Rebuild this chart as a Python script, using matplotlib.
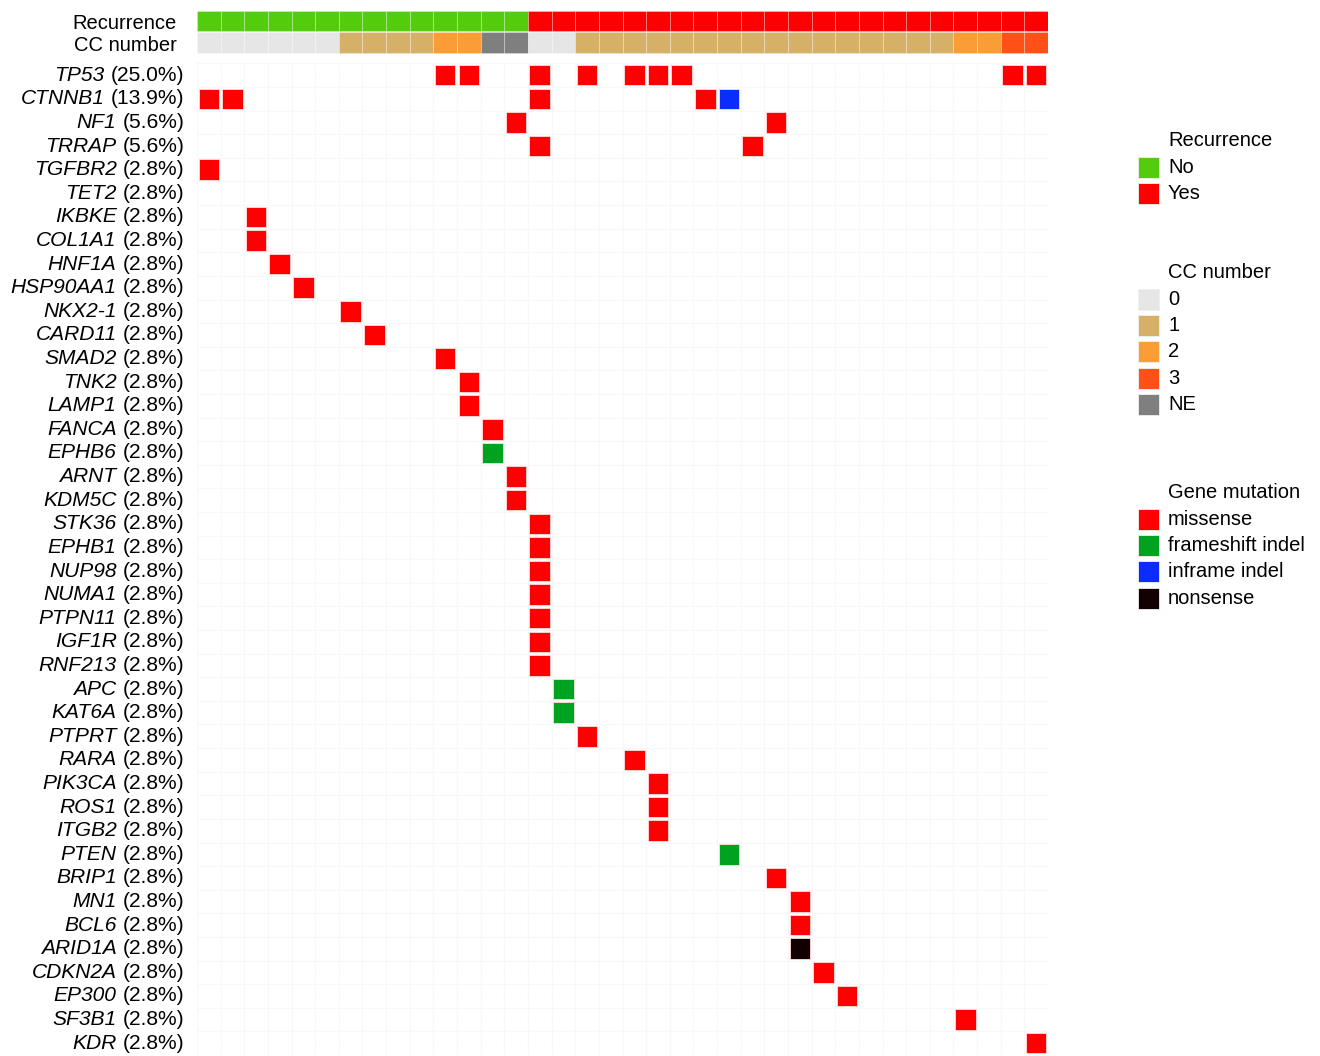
import matplotlib.pyplot as plt
from matplotlib.patches import Rectangle
from matplotlib.transforms import offset_copy

plt.rcParams['font.family'] = ['Liberation Sans', 'DejaVu Sans']

# genes shown top to bottom with their mutation frequency (%)
genes = ['TP53', 'CTNNB1', 'NF1', 'TRRAP', 'TGFBR2', 'TET2', 'IKBKE', 'COL1A1',
         'HNF1A', 'HSP90AA1', 'NKX2-1', 'CARD11', 'SMAD2', 'TNK2', 'LAMP1',
         'FANCA', 'EPHB6', 'ARNT', 'KDM5C', 'STK36', 'EPHB1', 'NUP98', 'NUMA1',
         'PTPN11', 'IGF1R', 'RNF213', 'APC', 'KAT6A', 'PTPRT', 'RARA', 'PIK3CA',
         'ROS1', 'ITGB2', 'PTEN', 'BRIP1', 'MN1', 'BCL6', 'ARID1A', 'CDKN2A',
         'EP300', 'SF3B1', 'KDR']
gene_pct = [25.0, 13.9, 5.6, 5.6, 2.8, 2.8, 2.8, 2.8, 2.8, 2.8, 2.8, 2.8, 2.8, 2.8,
            2.8, 2.8, 2.8, 2.8, 2.8, 2.8, 2.8, 2.8, 2.8, 2.8, 2.8, 2.8, 2.8, 2.8,
            2.8, 2.8, 2.8, 2.8, 2.8, 2.8, 2.8, 2.8, 2.8, 2.8, 2.8, 2.8, 2.8, 2.8]

# per-sample annotations (36 samples)
recurrence = ['No', 'No', 'No', 'No', 'No', 'No', 'No', 'No', 'No', 'No', 'No', 'No',
              'No', 'No', 'Yes', 'Yes', 'Yes', 'Yes', 'Yes', 'Yes', 'Yes', 'Yes',
              'Yes', 'Yes', 'Yes', 'Yes', 'Yes', 'Yes', 'Yes', 'Yes', 'Yes', 'Yes',
              'Yes', 'Yes', 'Yes', 'Yes']
cc_number = ['0', '0', '0', '0', '0', '0', '1', '1', '1', '1', '2', '2', 'NE', 'NE',
             '0', '0', '1', '1', '1', '1', '1', '1', '1', '1', '1', '1', '1', '1',
             '1', '1', '1', '1', '2', '2', '3', '3']

# one entry per mutation: gene, sample index, mutation type
mutations = [
    ('TP53', 10, 'missense'), ('TP53', 11, 'missense'), ('TP53', 14, 'missense'),
    ('TP53', 16, 'missense'), ('TP53', 18, 'missense'), ('TP53', 19, 'missense'),
    ('TP53', 20, 'missense'), ('TP53', 34, 'missense'), ('TP53', 35, 'missense'),
    ('CTNNB1', 0, 'missense'), ('CTNNB1', 1, 'missense'), ('CTNNB1', 14, 'missense'),
    ('CTNNB1', 21, 'missense'), ('CTNNB1', 22, 'inframe indel'),
    ('NF1', 13, 'missense'), ('NF1', 24, 'missense'),
    ('TRRAP', 14, 'missense'), ('TRRAP', 23, 'missense'),
    ('TGFBR2', 0, 'missense'), ('IKBKE', 2, 'missense'), ('COL1A1', 2, 'missense'),
    ('HNF1A', 3, 'missense'), ('HSP90AA1', 4, 'missense'), ('NKX2-1', 6, 'missense'),
    ('CARD11', 7, 'missense'), ('SMAD2', 10, 'missense'), ('TNK2', 11, 'missense'),
    ('LAMP1', 11, 'missense'), ('FANCA', 12, 'missense'),
    ('EPHB6', 12, 'frameshift indel'), ('ARNT', 13, 'missense'),
    ('KDM5C', 13, 'missense'), ('STK36', 14, 'missense'), ('EPHB1', 14, 'missense'),
    ('NUP98', 14, 'missense'), ('NUMA1', 14, 'missense'), ('PTPN11', 14, 'missense'),
    ('IGF1R', 14, 'missense'), ('RNF213', 14, 'missense'),
    ('APC', 15, 'frameshift indel'), ('KAT6A', 15, 'frameshift indel'),
    ('PTPRT', 16, 'missense'), ('RARA', 18, 'missense'), ('PIK3CA', 19, 'missense'),
    ('ROS1', 19, 'missense'), ('ITGB2', 19, 'missense'),
    ('PTEN', 22, 'frameshift indel'), ('BRIP1', 24, 'missense'),
    ('MN1', 25, 'missense'), ('BCL6', 25, 'missense'), ('ARID1A', 25, 'nonsense'),
    ('CDKN2A', 26, 'missense'), ('EP300', 27, 'missense'),
    ('SF3B1', 32, 'missense'), ('KDR', 35, 'missense'),
]

rec_colors = {'No': '#52cc0c', 'Yes': '#ff0000'}
cc_colors = {'0': '#e6e6e6', '1': '#d6b066', '2': '#fa9d35', '3': '#ff5018',
             'NE': '#7f7f7f'}
mut_colors = {'missense': '#ff0000', 'frameshift indel': '#00a320',
              'inframe indel': '#0c2cff', 'nonsense': '#120000'}

fs = 14.5
fs_gene = 15.1
fig = plt.figure(figsize=(13.2, 10.56), dpi=100)
W, H = 1320, 1056
ax = fig.add_axes([197 / W, 1 - 1055 / H, (1048 - 197) / W, (1055 - 11) / H])

n = len(recurrence)
ax.set_xlim(-0.5, n - 0.5)
ax.set_ylim(41.5, -2.72)
ax.axis('off')

# faint background grid
for r in range(len(genes)):
    for c in range(n):
        ax.add_patch(Rectangle((c - 0.5, r - 0.5), 1, 1, fc='white',
                               ec='#f8f8f8', lw=0.8))

# annotation bars
bar_h = 0.88
rec_y, cc_y = -2.3, -1.38
for c in range(n):
    ax.add_patch(Rectangle((c - 0.5, rec_y - bar_h / 2), 1, bar_h,
                           fc=rec_colors[recurrence[c]], ec=(1, 1, 1, 0.3), lw=0.6))
    ax.add_patch(Rectangle((c - 0.5, cc_y - bar_h / 2), 1, bar_h,
                           fc=cc_colors[cc_number[c]], ec=(1, 1, 1, 0.3), lw=0.6))

# mutation cells
sq = 0.87
for g, s, t in mutations:
    r = genes.index(g)
    ax.add_patch(Rectangle((s - sq / 2, r - sq / 2), sq, sq, fc=mut_colors[t],
                           ec='#ffdddd', lw=0.6))

# row labels: italic gene name followed by upright percentage
fig.canvas.draw()
renderer = fig.canvas.get_renderer()
base = ax.get_yaxis_transform()
gap_gene = 12.5
space = 0.3 * fs_gene * 100 / 72
for i, (g, p) in enumerate(zip(genes, gene_pct)):
    t = ax.text(0, i, f'({p:.1f}%)', ha='right', va='center', fontsize=fs_gene,
                transform=offset_copy(base, fig=fig, x=-gap_gene, units='dots'))
    w = t.get_window_extent(renderer).width
    ax.text(0, i, g, ha='right', va='center', fontsize=fs_gene, style='italic',
            transform=offset_copy(base, fig=fig, x=-gap_gene - w - space,
                                  units='dots'))

for y, lab in [(rec_y, 'Recurrence'), (cc_y, 'CC number')]:
    ax.text(0, y, lab, ha='right', va='center', fontsize=fs,
            transform=offset_copy(base, fig=fig, x=-20, y=-3, units='dots'))

# legends on the right
lax = fig.add_axes([1120 / W, 0, 200 / W, 1])
lax.set_xlim(0, 200)
lax.set_ylim(H, 0)
lax.axis('off')


def draw_legend(title, labels, colors, top):
    lax.text(48, top, title, fontsize=fs, va='center', ha='left')
    for k, lab in enumerate(labels):
        y = top + 26.3 * (k + 1)
        lax.add_patch(Rectangle((18, y - 10.5), 21, 21, fc=colors[lab],
                                ec='#f0f0f0', lw=0.6))
        lax.text(48, y, lab, fontsize=fs, va='center', ha='left')


draw_legend('Recurrence', ['No', 'Yes'], rec_colors, 141)
draw_legend('CC number', ['0', '1', '2', '3', 'NE'], cc_colors, 273)
draw_legend('Gene mutation', list(mut_colors), mut_colors, 493)

fig.savefig('out.png', dpi=100)
